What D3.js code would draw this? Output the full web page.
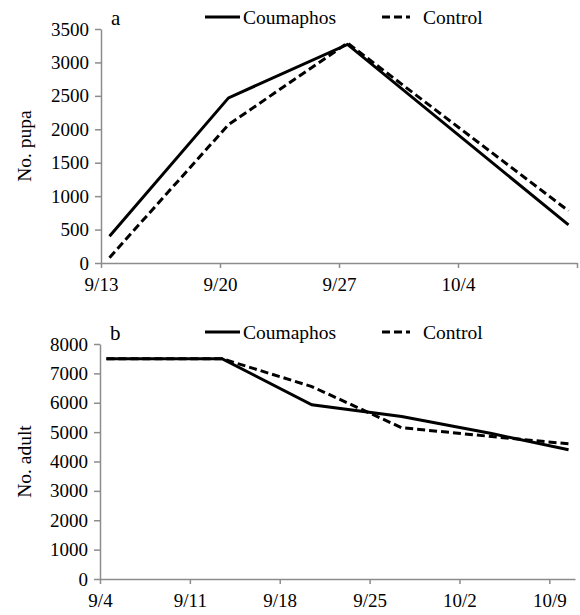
<!DOCTYPE html>
<meta charset="utf-8">
<style>
body { margin: 0; background: #fff; }
svg text { font-family: "Liberation Serif", "Times New Roman", serif !important; fill: #000; }
.axis path, .axis line { stroke: #8c8c8c; stroke-width: 1.5; }
.axis text { font-size: 19px; }
.series { fill: none; stroke: #000; stroke-width: 3; }
.dash { stroke-dasharray: 8,4; }
</style>
<body>
<svg width="580" height="615"></svg>
<script src="https://cdn.jsdelivr.net/npm/d3@7"></script>
<script>

// panel a: pupae
var pupaDates = ["9/13", "9/20", "9/27", "10/10"];
var pupaCoumaphos = [400, 2470, 3270, 570];
var pupaControl = [80, 2070, 3290, 780];
var pupaTicks = ["9/13", "9/20", "9/27", "10/4", "10/11"];
var pupaTickLabels = ["9/13", "9/20", "9/27", "10/4", ""];

// panel b: adults
var adultDates = ["9/4", "9/13", "9/20", "9/27", "10/4", "10/10"];
var adultCoumaphos = [7500, 7500, 5930, 5530, 4950, 4400];
var adultControl = [7500, 7500, 6550, 5150, 4850, 4600];
var adultTicks = ["9/4", "9/11", "9/18", "9/25", "10/2", "10/9"];

var seriesNames = ["Coumaphos", "Control"];

var serif = "'Liberation Serif', 'Times New Roman', serif";
var parse = d3.utcParse("%m/%d");
var svg = d3.select("svg");

// Excel date axis: points sit in the middle of their day
function mid(s) { return d3.utcHour.offset(parse(s), 12); }

function panel(opt) {
  var x = d3.scaleUtc().domain([parse(opt.start), parse(opt.end)]).range([opt.left, opt.right]);
  var y = d3.scaleLinear().domain([0, opt.ymax]).range([opt.bottom, opt.top]);

  var xAxis = d3.axisBottom(x)
      .tickValues(opt.ticks.map(parse))
      .tickSize(5).tickSizeOuter(0)
      .tickFormat(function(d, i) { return opt.tickLabels[i]; });
  svg.append("g")
      .attr("class", "axis")
      .attr("font-family", serif)
      .attr("transform", "translate(0," + opt.bottom + ")")
      .call(xAxis)
      .call(function(g) { g.selectAll("text").attr("dy", "1.05em").style("font-family", serif); });

  svg.append("g")
      .attr("class", "axis")
      .attr("font-family", serif)
      .attr("transform", "translate(" + opt.left + ",0)")
      .call(d3.axisLeft(y).ticks(opt.ymax / opt.ystep).tickSize(6).tickSizeOuter(0).tickFormat(d3.format("d")))
      .call(function(g) { g.selectAll("text").attr("x", -12).style("font-family", serif); });

  var line = d3.line()
      .x(function(d) { return x(mid(d.date)); })
      .y(function(d) { return y(d.v); });

  [opt.coumaphos, opt.control].forEach(function(vals, k) {
    var pts = opt.dates.map(function(dt, i) { return {date: dt, v: vals[i]}; });
    svg.append("path")
        .attr("class", "series" + (k == 1 ? " dash" : ""))
        .attr("d", line(pts));
  });

  // panel letter
  svg.append("text")
      .attr("x", opt.left + 10).attr("y", opt.top - 4)
      .style("font-family", serif)
      .style("font-size", "21px")
      .text(opt.letter);

  // y label
  svg.append("text")
      .attr("transform", "translate(31," + (opt.top + opt.bottom) / 2 + ") rotate(-90)")
      .attr("text-anchor", "middle")
      .style("font-family", serif)
      .style("font-size", "19.5px")
      .text(opt.ylabel);

  // legend
  var ly = opt.top - 12;
  var leg = [{x1: 205, x2: 240, tx: 243}, {x1: 382, x2: 410, tx: 423}];
  leg.forEach(function(l, k) {
    svg.append("line")
        .attr("class", "series" + (k == 1 ? " dash" : ""))
        .attr("x1", l.x1).attr("x2", l.x2)
        .attr("y1", ly).attr("y2", ly);
    svg.append("text")
        .attr("x", l.tx).attr("y", ly + 7)
        .style("font-family", serif)
        .style("font-size", "19.5px")
        .text(seriesNames[k]);
  });
}

panel({
  letter: "a", ylabel: "No. pupa",
  start: "9/13", end: "10/11", left: 101, right: 577,
  top: 29, bottom: 263, ymax: 3500, ystep: 500,
  ticks: pupaTicks, tickLabels: pupaTickLabels,
  dates: pupaDates, coumaphos: pupaCoumaphos, control: pupaControl
});

panel({
  letter: "b", ylabel: "No. adult",
  start: "9/4", end: "10/11", left: 100, right: 575,
  top: 344, bottom: 579, ymax: 8000, ystep: 1000,
  ticks: adultTicks, tickLabels: adultTicks,
  dates: adultDates, coumaphos: adultCoumaphos, control: adultControl
});

</script>
</body>
